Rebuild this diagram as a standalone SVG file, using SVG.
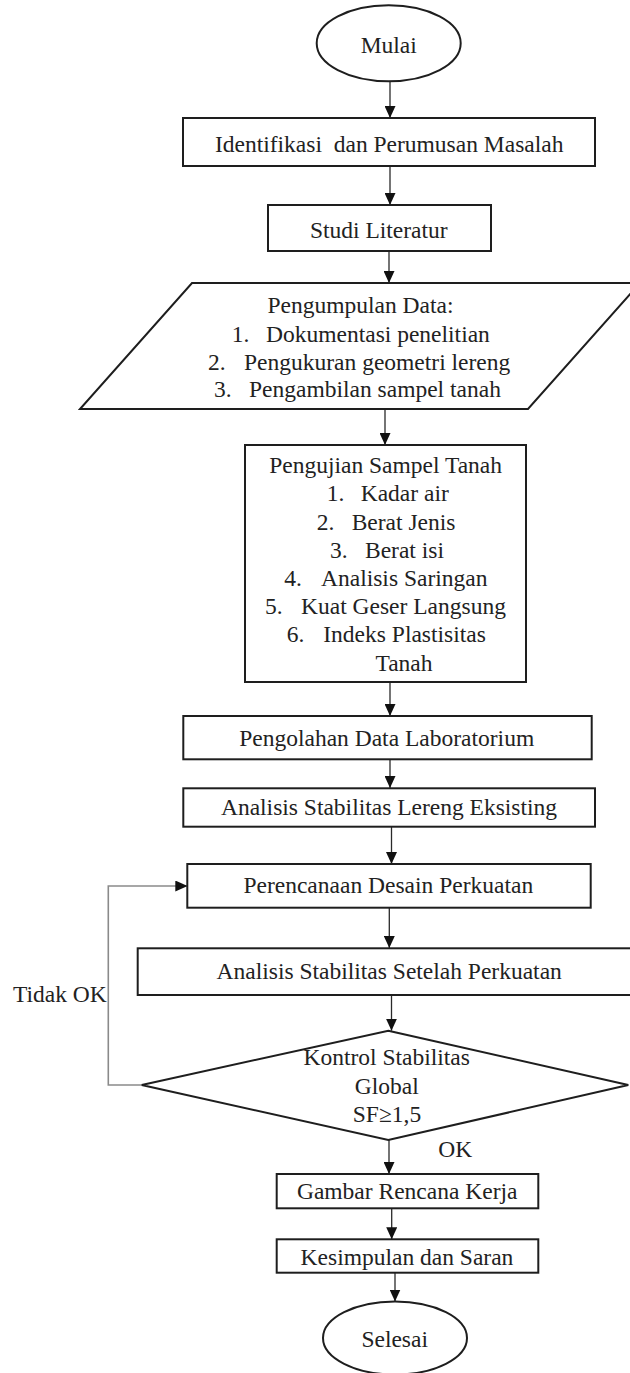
<svg xmlns="http://www.w3.org/2000/svg" width="630" height="1373" viewBox="0 0 630 1373">
<style>
text{font-family:"Liberation Serif","Times New Roman",serif;font-size:23.5px;fill:#222}
.c{text-anchor:middle}
.shape{fill:#fff;stroke:#1e1e1e;stroke-width:2}
.ln{fill:none;stroke:#2a2a2a;stroke-width:1.3}
.loop{fill:none;stroke:#8a8a8a;stroke-width:1.6}
</style>
<defs>
<marker id="ah" markerUnits="userSpaceOnUse" markerWidth="12" markerHeight="11" refX="12" refY="5.5" orient="auto">
<path d="M0,0 L12,5.5 L0,11 Z" fill="#111"/>
</marker>
</defs>
<rect width="630" height="1373" fill="#fff"/>
<g id="connectors">
<line class="ln" x1="390" y1="81.5" x2="390" y2="118" marker-end="url(#ah)"/>
<line class="ln" x1="390" y1="166" x2="390" y2="205" marker-end="url(#ah)"/>
<line class="ln" x1="389" y1="248" x2="389" y2="283" marker-end="url(#ah)"/>
<line class="ln" x1="385" y1="409" x2="385" y2="445" marker-end="url(#ah)"/>
<line class="ln" x1="390" y1="682" x2="390" y2="716" marker-end="url(#ah)"/>
<line class="ln" x1="390" y1="752" x2="390" y2="788" marker-end="url(#ah)"/>
<line class="ln" x1="391.5" y1="827" x2="391.5" y2="864" marker-end="url(#ah)"/>
<line class="ln" x1="389.3" y1="908" x2="389.3" y2="948" marker-end="url(#ah)"/>
<line class="ln" x1="391.5" y1="995" x2="391.5" y2="1030.7" marker-end="url(#ah)"/>
<line class="ln" x1="389" y1="1140" x2="389" y2="1174" marker-end="url(#ah)"/>
<line class="ln" x1="391.7" y1="1208" x2="391.7" y2="1239.3" marker-end="url(#ah)"/>
<line class="ln" x1="395" y1="1273" x2="395" y2="1301.5" marker-end="url(#ah)"/>
<polyline class="loop" points="141.7,1085 108.3,1085 108.3,886 187.3,886" marker-end="url(#ah)"/>
</g>
<g id="mulai">
<ellipse class="shape" cx="388.7" cy="43.3" rx="72" ry="38" stroke-width="1.6"/>
<text class="c" x="388.7" y="53">Mulai</text>
</g>
<g id="identifikasi">
<rect class="shape" x="183" y="118" width="412" height="48"/>
<text class="c" x="389.2" y="151.5" xml:space="preserve">Identifikasi  dan Perumusan Masalah</text>
</g>
<g id="studi">
<rect class="shape" x="268" y="205" width="223" height="46"/>
<text class="c" x="378.8" y="238">Studi Literatur</text>
</g>
<g id="pengumpulan">
<polygon class="shape" points="192,283 640,283 528,409 80,409"/>
<text class="c" x="360.5" y="312.5">Pengumpulan Data:</text>
<text x="231.7" y="341.5">1.<tspan x="266">Dokumentasi penelitian</tspan></text>
<text x="208" y="369.5">2.<tspan x="244">Pengukuran geometri lereng</tspan></text>
<text x="214" y="397">3.<tspan x="249">Pengambilan sampel tanah</tspan></text>
</g>
<g id="pengujian">
<rect class="shape" x="245" y="445" width="281" height="237"/>
<text class="c" x="385.6" y="472.7">Pengujian Sampel Tanah</text>
<text x="326.7" y="501">1.<tspan x="360.7">Kadar air</tspan></text>
<text x="316.7" y="529.5">2.<tspan x="351.7">Berat Jenis</tspan></text>
<text x="330" y="557.5">3.<tspan x="365">Berat isi</tspan></text>
<text x="284.3" y="586">4.<tspan x="321">Analisis Saringan</tspan></text>
<text x="265" y="614">5.<tspan x="301">Kuat Geser Langsung</tspan></text>
<text x="286.7" y="642">6.<tspan x="323.3">Indeks Plastisitas</tspan></text>
<text class="c" x="404" y="671">Tanah</text>
</g>
<g id="pengolahan">
<rect class="shape" x="183.3" y="716" width="408.4" height="43.3"/>
<text class="c" x="386.7" y="746">Pengolahan Data Laboratorium</text>
</g>
<g id="eksisting">
<rect class="shape" x="183.3" y="788.3" width="411.7" height="38.4"/>
<text class="c" x="389" y="815">Analisis Stabilitas Lereng Eksisting</text>
</g>
<g id="perencanaan">
<rect class="shape" x="187.3" y="864" width="403.4" height="43.7"/>
<text class="c" x="388.3" y="893">Perencanaan Desain Perkuatan</text>
</g>
<g id="setelah">
<rect class="shape" x="137.7" y="948.3" width="510" height="46.7"/>
<text class="c" x="389.2" y="979">Analisis Stabilitas Setelah Perkuatan</text>
</g>
<g id="kontrol">
<polygon class="shape" points="388.3,1030.7 628.3,1085 388.3,1140 141.7,1085"/>
<text class="c" x="386.7" y="1065">Kontrol Stabilitas</text>
<text class="c" x="386.7" y="1093.5">Global</text>
<text class="c" x="387" y="1121.7">SF≥1,5</text>
</g>
<g id="labels">
<text x="13" y="1001.5">Tidak OK</text>
<text x="438.3" y="1157">OK</text>
</g>
<g id="gambar">
<rect class="shape" x="276.7" y="1174" width="261.6" height="34.3"/>
<text class="c" x="407.2" y="1199">Gambar Rencana Kerja</text>
</g>
<g id="kesimpulan">
<rect class="shape" x="276.7" y="1239.3" width="261.6" height="33.4"/>
<text class="c" x="407" y="1265">Kesimpulan dan Saran</text>
</g>
<g id="selesai">
<ellipse class="shape" cx="395" cy="1338" rx="72" ry="36.5" stroke-width="1.6"/>
<text class="c" x="394.7" y="1346.7">Selesai</text>
</g>
</svg>
